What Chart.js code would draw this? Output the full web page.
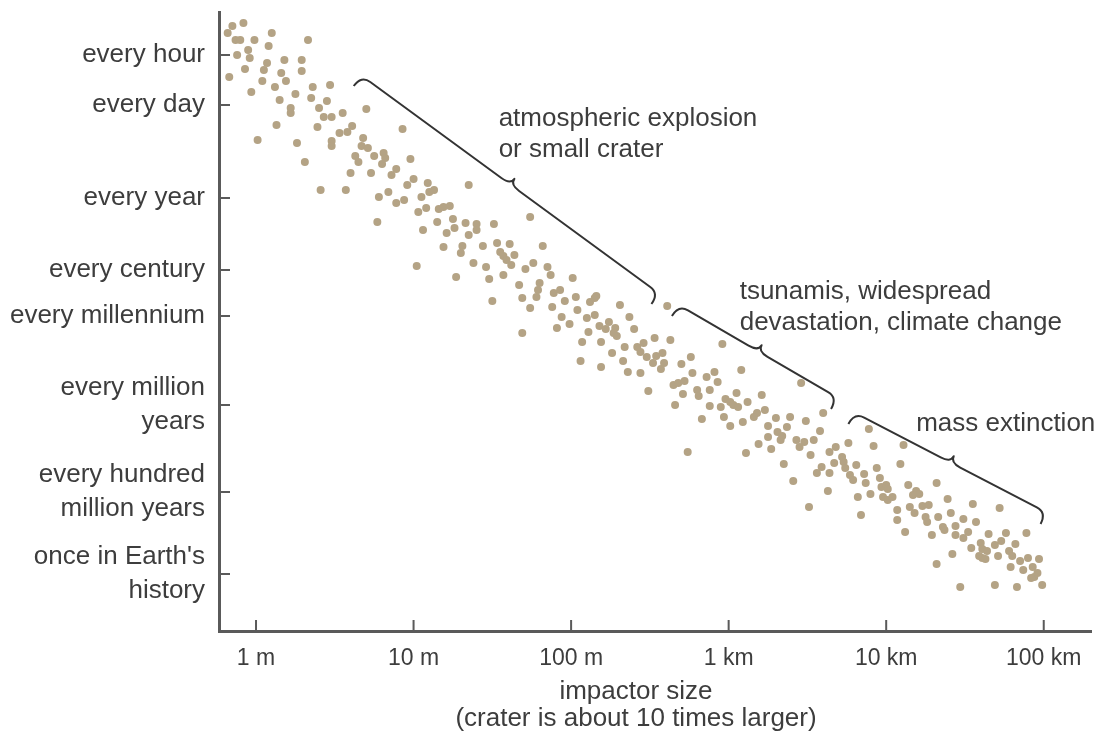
<!DOCTYPE html>
<html>
<head>
<meta charset="utf-8">
<script src="https://cdn.jsdelivr.net/npm/chart.js@4/dist/chart.umd.min.js"></script>
<style>
    html, body { margin: 0; padding: 0; background: #fff; }
    #wrap { width: 1105px; height: 742px; }
</style>
</head>
<body>
<div id="wrap"><canvas id="grafico_impactos" width="1105" height="742"></canvas></div>
<script>
// impactor size, as log10 of metres (0 = 1 m, 5 = 100 km)
const impactor_size_log = [
    -0.15, -0.08, -0.18, -0.13, -0.10, -0.01, 0.10, 0.08, 0.33, -0.12, -0.05, -0.04, 0.07, 0.18, 0.29,
    -0.17, -0.07, 0.05, 0.04, 0.16, 0.19, 0.29, 0.12, -0.03, 0.25, 0.36, 0.47, 0.15, 0.35, 0.45,
    0.22, 0.22, 0.40, 0.70, 0.43, 0.48, 0.55, 0.13, 0.39, 0.01, 0.26, 0.48, 0.48, 0.53, 0.58,
    0.61, 0.68, 0.67, 0.71, 0.63, 0.65, 0.75, 0.81, 0.82, 0.80, 0.93, 0.31, 0.60, 0.73, 0.86,
    0.89, 0.41, 0.57, 0.78, 0.84, 0.89, 0.94, 0.77, 0.98, 1.00, 0.96, 1.09, 1.13, 1.10, 1.35,
    1.05, 1.03, 1.08, 1.16, 1.19, 1.23, 1.06, 1.15, 1.25, 1.21, 1.26, 1.33, 1.40, 1.40, 1.35,
    1.51, 1.74, 1.19, 1.31, 1.30, 1.44, 1.53, 1.55, 1.57, 1.59, 1.62, 1.61, 1.64, 1.38, 1.46,
    1.02, 1.27, 1.48, 1.57, 1.67, 1.71, 1.76, 1.82, 1.85, 1.87, 1.80, 1.79, 1.69, 1.50, 1.74,
    1.89, 1.88, 1.91, 1.69, 1.78, 1.93, 2.01, 1.96, 2.03, 1.94, 1.99, 2.04, 2.10, 2.12, 2.15,
    2.16, 2.15, 2.11, 2.07, 2.06, 2.18, 2.22, 2.24, 2.28, 2.29, 2.27, 2.19, 2.31, 2.37, 2.40,
    2.26, 2.34, 2.33, 2.19, 2.36, 2.42, 2.46, 2.44, 2.53, 2.61, 2.63, 2.48, 2.52, 2.54, 2.58,
    2.59, 2.57, 2.44, 2.49, 2.70, 2.76, 2.77, 2.65, 2.68, 2.72, 2.71, 2.66, 2.80, 2.96, 3.08,
    2.91, 2.93, 2.86, 2.88, 2.81, 2.83, 2.74, 2.88, 2.95, 2.97, 3.01, 2.98, 3.01, 3.03, 3.06,
    3.05, 3.12, 3.21, 3.46, 3.23, 3.18, 3.16, 3.09, 3.11, 3.25, 3.30, 3.25, 3.31, 3.19, 3.27,
    3.33, 3.34, 3.37, 3.39, 3.35, 3.41, 3.49, 3.43, 3.48, 3.54, 3.45, 3.52, 3.58, 3.60, 3.68,
    3.64, 3.67, 3.59, 3.56, 3.64, 3.63, 3.76, 3.89, 3.92, 4.11, 4.09, 3.72, 3.73, 3.74, 3.77,
    3.79, 3.81, 3.86, 3.87, 3.94, 3.96, 3.51, 3.82, 3.84, 3.90, 3.97, 4.00, 4.01, 3.98, 4.01,
    4.04, 4.07, 4.07, 4.14, 4.19, 4.21, 4.17, 4.15, 4.18, 4.23, 4.27, 4.25, 4.26, 4.12, 4.32,
    4.39, 4.41, 4.33, 4.36, 4.37, 4.29, 4.44, 4.42, 4.32, 4.44, 4.47, 4.55, 4.49, 4.57, 4.72,
    4.49, 4.52, 4.54, 4.60, 4.61, 4.59, 4.61, 4.63, 4.65, 4.64, 4.69, 4.73, 4.76, 4.71, 4.82,
    4.78, 4.80, 4.79, 4.85, 4.87, 4.89, 4.90, 4.97, 4.93, 4.96, 4.94, 4.92, 4.69, 4.83, 4.99
];

// how often it happens, on the figure's schematic frequency scale (higher = more often)
const frequency_level = [
    60.5, 60.8, 59.8, 59.1, 59.1, 59.1, 59.8, 58.5, 59.1, 57.6, 58.1, 57.3, 56.8, 57.1, 57.1,
    55.4, 56.2, 56.1, 55.0, 55.8, 55.0, 56.0, 54.4, 53.9, 53.7, 54.4, 54.6, 53.1, 53.3, 53.0,
    52.3, 51.8, 52.3, 52.2, 51.4, 51.4, 51.8, 50.6, 50.4, 49.1, 48.8, 49.0, 48.5, 49.8, 49.9,
    50.5, 49.3, 48.5, 48.3, 47.5, 46.9, 47.5, 47.8, 47.3, 46.7, 50.2, 46.9, 45.8, 45.8, 45.6,
    46.2, 44.1, 44.1, 43.4, 43.9, 42.8, 43.1, 40.9, 47.2, 45.2, 44.6, 44.8, 44.1, 43.9, 44.6,
    43.4, 41.9, 42.3, 42.2, 42.4, 42.5, 40.1, 40.9, 41.2, 39.8, 40.3, 40.8, 40.7, 40.1, 39.6,
    40.7, 41.4, 38.4, 38.5, 37.8, 38.5, 38.8, 37.9, 37.5, 37.1, 36.6, 38.7, 37.6, 36.8, 36.4,
    36.5, 35.4, 35.2, 35.6, 34.6, 36.2, 36.8, 38.5, 36.4, 35.6, 34.8, 34.1, 33.3, 33.0, 32.3,
    33.8, 32.4, 30.3, 29.8, 33.4, 34.1, 35.3, 33.0, 33.4, 31.4, 30.7, 32.1, 31.3, 32.9, 33.3,
    33.5, 31.6, 29.9, 28.9, 27.0, 30.5, 30.2, 30.9, 30.3, 29.5, 29.8, 28.9, 32.6, 31.4, 30.2,
    27.8, 28.4, 27.0, 26.4, 25.9, 28.4, 28.8, 27.9, 29.3, 32.5, 29.1, 27.4, 26.8, 27.5, 27.8,
    26.8, 26.2, 25.8, 24.0, 26.7, 27.4, 25.8, 24.6, 24.8, 25.0, 23.7, 22.6, 24.1, 28.7, 26.1,
    25.9, 24.9, 25.4, 24.1, 23.5, 21.2, 17.9, 22.5, 22.4, 21.4, 20.5, 23.2, 22.9, 22.6, 22.4,
    23.8, 22.9, 23.6, 24.8, 22.1, 21.8, 21.4, 20.9, 17.8, 20.5, 21.3, 19.4, 19.9, 18.7, 18.2,
    19.1, 19.5, 20.4, 21.4, 16.7, 15.0, 21.0, 19.1, 18.9, 19.1, 18.4, 17.6, 20.0, 21.8, 18.4,
    17.9, 16.8, 16.4, 15.8, 15.8, 14.0, 18.8, 20.2, 18.5, 18.6, 16.7, 17.4, 16.9, 16.3, 15.6,
    15.1, 16.6, 15.7, 14.8, 16.3, 15.3, 12.4, 13.4, 11.6, 13.7, 14.4, 14.6, 14.2, 13.4, 13.1,
    13.4, 12.1, 11.1, 14.6, 14.0, 13.7, 13.6, 12.4, 11.8, 12.5, 12.6, 11.4, 10.9, 9.9, 14.8,
    13.2, 11.8, 11.4, 10.4, 10.1, 9.6, 10.5, 7.7, 6.7, 9.6, 4.4, 12.7, 11.2, 10.9, 12.3,
    9.3, 9.9, 8.3, 8.8, 8.2, 7.5, 7.3, 7.2, 9.7, 8.0, 8.6, 9.0, 9.8, 7.5, 8.7,
    8.0, 7.5, 6.4, 7.0, 6.1, 9.8, 7.3, 7.2, 6.4, 5.8, 5.4, 5.3, 4.6, 4.4, 4.6
];

const size_ticks = [0, 1, 2, 3, 4, 5];
const size_labels = ['1 m', '10 m', '100 m', '1 km', '10 km', '100 km'];

const frequency_ticks = [57.6, 52.6, 43.3, 36.1, 31.5, 22.6, 13.9, 5.7];
const frequency_labels = [
    'every hour',
    'every day',
    'every year',
    'every century',
    'every millennium',
    ['every million', 'years'],
    ['every hundred', 'million years'],
    ["once in Earth's", 'history']
];

const axis_title = ['impactor size', '(crater is about 10 times larger)'];

// braces over the cloud: tips of the brace and where its label starts (data units)
const brace_notes = [
    { from: [0.62, 54.5], to: [2.51, 32.7], label_at: [1.54, 51.4], text: ['atmospheric explosion', 'or small crater'] },
    { from: [2.64, 31.5], to: [3.65, 22.2], label_at: [3.07, 34.1], text: ['tsunamis, widespread', 'devastation, climate change'] },
    { from: [3.76, 20.7], to: [4.98, 10.7], label_at: [4.19, 20.9], text: ['mass extinction'] }
];

const font_family = '"Liberation Sans", Arial, Helvetica, sans-serif';
const text_color = '#3d3d3d';
const axis_color = '#5a5a5a';
const dot_color = 'rgb(180, 163, 133)';

function draw_brace(ctx, ax, ay, bx, by, depth, cusp) {
    const len = Math.hypot(bx - ax, by - ay);
    const ux = (bx - ax) / len, uy = (by - ay) / len;
    const nx = uy, ny = -ux;
    const r = 11;
    const mx = (ax + bx) / 2, my = (ay + by) / 2;
    const p = (x, y, along, out) => [x + ux * along + nx * out, y + uy * along + ny * out];
    ctx.beginPath();
    ctx.moveTo(ax, ay);
    ctx.quadraticCurveTo(...p(ax, ay, 0, depth), ...p(ax, ay, r, depth));
    ctx.lineTo(...p(mx, my, -r, depth));
    ctx.quadraticCurveTo(...p(mx, my, 0, depth), ...p(mx, my, 0, depth + cusp));
    ctx.quadraticCurveTo(...p(mx, my, 0, depth), ...p(mx, my, r, depth));
    ctx.lineTo(...p(bx, by, -r, depth));
    ctx.quadraticCurveTo(...p(bx, by, 0, depth), bx, by);
    ctx.stroke();
}

const plugin_extras = {
    id: 'extras',
    afterDraw(chart) {
        const ctx = chart.ctx;
        const xs = chart.scales.x;
        const ys = chart.scales.y;
        ctx.save();

        // tick marks point inward
        ctx.strokeStyle = axis_color;
        ctx.lineWidth = 2;
        ctx.beginPath();
        size_ticks.forEach(v => {
            const px = xs.getPixelForValue(v);
            ctx.moveTo(px, ys.bottom);
            ctx.lineTo(px, ys.bottom - 11);
        });
        frequency_ticks.forEach(v => {
            const py = ys.getPixelForValue(v);
            ctx.moveTo(xs.left, py);
            ctx.lineTo(xs.left + 11, py);
        });
        ctx.stroke();

        // axis title
        ctx.fillStyle = text_color;
        ctx.font = '26px ' + font_family;
        ctx.textAlign = 'center';
        ctx.textBaseline = 'middle';
        axis_title.forEach((line, i) => ctx.fillText(line, 636, 692 + i * 27));

        // braces and their labels
        ctx.strokeStyle = '#333';
        ctx.lineWidth = 2;
        ctx.lineJoin = 'round';
        ctx.textAlign = 'left';
        ctx.font = '26px ' + font_family;
        brace_notes.forEach(b => {
            draw_brace(ctx,
                xs.getPixelForValue(b.from[0]), ys.getPixelForValue(b.from[1]),
                xs.getPixelForValue(b.to[0]), ys.getPixelForValue(b.to[1]), 13, 7);
            const tx = xs.getPixelForValue(b.label_at[0]);
            const ty = ys.getPixelForValue(b.label_at[1]);
            b.text.forEach((line, i) => ctx.fillText(line, tx, ty + 2 + i * 31));
        });
        ctx.restore();
    }
};

const data_impactos = {
    datasets: [{
        label: 'impacts',
        data: impactor_size_log.map((v, i) => ({ x: v, y: frequency_level[i] })),
        backgroundColor: dot_color,
        borderWidth: 0,
        pointRadius: 4
    }]
};

const config_impactos = {
    type: 'scatter',
    data: data_impactos,
    options: {
        responsive: false,
        animation: false,
        layout: { padding: { top: 12, right: 14, left: 0, bottom: 0 } },
        plugins: { legend: { display: false }, tooltip: { enabled: false } },
        scales: {
            x: {
                type: 'linear',
                min: -0.235,
                max: 5.3,
                afterBuildTicks: s => { s.ticks = size_ticks.map(v => ({ value: v })); },
                afterFit: s => { s.height = 111; s.paddingLeft = 0; s.paddingRight = 0; },
                grid: { display: false, drawTicks: false },
                border: { display: true, color: axis_color, width: 3 },
                ticks: {
                    padding: 14,
                    color: text_color,
                    font: { family: font_family, size: 23 },
                    maxRotation: 0,
                    callback: (v, i) => size_labels[i]
                }
            },
            y: {
                type: 'linear',
                min: 0,
                max: 61.9,
                afterBuildTicks: s => { s.ticks = frequency_ticks.map(v => ({ value: v })); },
                afterFit: s => { s.width = 219; s.paddingTop = 0; s.paddingBottom = 0; },
                grid: { display: false, drawTicks: false },
                border: { display: true, color: axis_color, width: 3 },
                ticks: {
                    padding: 14,
                    color: text_color,
                    font: { family: font_family, size: 26, lineHeight: 1.3 },
                    callback: (v, i) => frequency_labels[i]
                }
            }
        }
    },
    plugins: [plugin_extras]
};

const grafico_impactos = new Chart(
    document.getElementById('grafico_impactos'),
    config_impactos
);
</script>
</body>
</html>
